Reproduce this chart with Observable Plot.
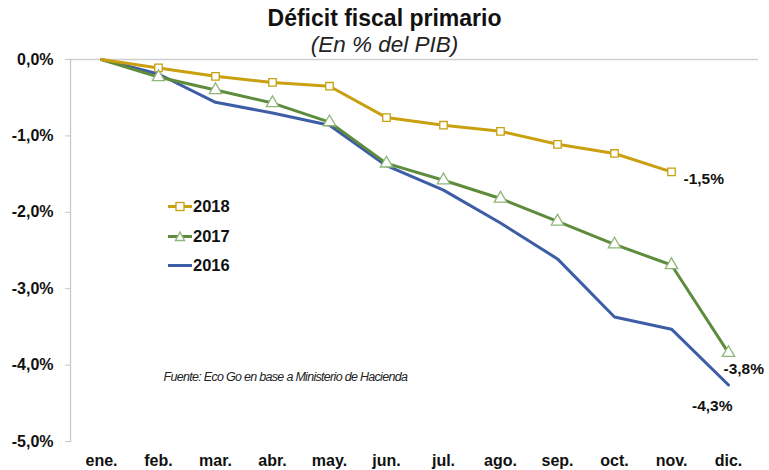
<!DOCTYPE html>
<html>
<head>
<meta charset="utf-8">
<script src="https://cdn.jsdelivr.net/npm/d3@7"></script>
<script src="https://cdn.jsdelivr.net/npm/@observablehq/plot@0.6"></script>
<style>
  html, body { margin: 0; padding: 0; background: #fff; }
  #wrap { position: relative; width: 769px; height: 470px; font-family: Arial, "Liberation Sans", sans-serif; }
  #title { height: 30px; line-height: 36px; text-align: center; font-weight: bold; font-size: 23px; color: #111; }
  #subtitle { height: 22px; line-height: 30px; text-align: center; font-style: italic; font-size: 22.5px; color: #222; }
  #legend { position: absolute; left: 168px; top: 192px; font-weight: bold; font-size: 16.5px; color: #111; }
  #legend .item { display: flex; align-items: center; height: 29.5px; }
  #legend svg { margin-right: 1px; }
</style>
</head>
<body>
<div id="wrap">
  <div id="title">Déficit fiscal primario</div>
  <div id="subtitle">(En % del PIB)</div>
  <div id="chart"></div>
  <div id="legend"></div>
</div>
<script>
const months = ["ene.", "feb.", "mar.", "abr.", "may.", "jun.", "jul.", "ago.", "sep.", "oct.", "nov.", "dic."];
const series = ["2018", "2017", "2016"];
const values2018 = [0, -0.11, -0.22, -0.30, -0.35, -0.76, -0.86, -0.94, -1.11, -1.23, -1.47, null];
const values2017 = [0, -0.23, -0.40, -0.57, -0.82, -1.36, -1.58, -1.82, -2.12, -2.42, -2.69, -3.84];
const values2016 = [0, -0.19, -0.56, -0.70, -0.86, -1.39, -1.71, -2.14, -2.61, -3.37, -3.53, -4.26];
const yTicks = [0, -1, -2, -3, -4, -5];
const endLabels = ["-1,5%", "-3,8%", "-4,3%"];
const colors = {"2018": "#C9A010", "2017": "#5E8C3C", "2016": "#3D5DA6"};
const markerStroke = {"2018": "#C9A010", "2017": "#8FB57A"};
const source = "Fuente: Eco Go en base a Ministerio de Hacienda";

const valuesBySeries = {"2018": values2018, "2017": values2017, "2016": values2016};
const rows = [];
for (const s of series) {
  valuesBySeries[s].forEach((v, i) => { if (v !== null) rows.push({serie: s, mes: months[i], valor: v}); });
}
const byS = s => rows.filter(d => d.serie === s);
const lastOf = s => byS(s)[byS(s).length - 1];
const labelRows = [
  {...lastOf("2018"), label: endLabels[0], dx: 12, dy: 7, anchor: "start"},
  {...lastOf("2017"), label: endLabels[1], dx: -5, dy: 16, anchor: "start"},
  {...lastOf("2016"), label: endLabels[2], dx: 4, dy: 21, anchor: "end"}
];
const fmt = v => d3.format(".1f")(v).replace(".", ",").replace("−", "-") + "%";

const chart = Plot.plot({
  width: 769,
  height: 418,
  marginTop: 7,
  marginBottom: 29,
  marginLeft: 70,
  marginRight: 11,
  style: {fontFamily: "Arial, 'Liberation Sans', sans-serif", background: "#fff"},
  x: {type: "point", domain: months, padding: 0.5, label: null},
  y: {domain: [-5, 0], label: null},
  marks: [
    Plot.ruleY([0], {stroke: "#cfcfcf", strokeWidth: 1.3}),
    Plot.frame({anchor: "left", stroke: "#c8c8c8", strokeWidth: 1.3}),
    Plot.axisY({ticks: yTicks, tickFormat: fmt, tickSize: 5, tickPadding: 12, stroke: "#c8c8c8", fontSize: 16, fontWeight: "bold", fill: "#111", label: null}),
    Plot.axisX({tickSize: 0, tickPadding: 13, fontSize: 16, fontWeight: "bold", fill: "#111", label: null}),
    ...series.slice().reverse().map(s => Plot.line(byS(s), {x: "mes", y: "valor", stroke: colors[s], strokeWidth: 3})),
    Plot.dot(byS("2018").slice(1), {x: "mes", y: "valor", symbol: "square", r: 4.2, fill: "#fff", stroke: markerStroke["2018"], strokeWidth: 1.3}),
    Plot.dot(byS("2017").slice(1), {x: "mes", y: "valor", symbol: "triangle", r: 4.6, fill: "#fff", stroke: markerStroke["2017"], strokeWidth: 1.3}),
    ...labelRows.map(d => Plot.text([d], {x: "mes", y: "valor", text: "label", dx: d.dx, dy: d.dy, textAnchor: d.anchor, fontSize: 15.5, fontWeight: "bold", fill: "#111"})),
    Plot.text([source], {frameAnchor: "top-left", dx: 93, dy: 313, text: d => d, fontSize: 12.5, fontStyle: "italic", fill: "#222", textAnchor: "start"})
  ]
});
document.getElementById("chart").appendChild(chart);
d3.select(chart).selectAll("text").filter(function() { return this.textContent === source; }).attr("letter-spacing", "-0.7");

// legend
const legend = document.getElementById("legend");
for (const s of series) {
  const item = document.createElement("div");
  item.className = "item";
  let marker = "";
  if (s === "2018") marker = `<rect x="8" y="3.5" width="8" height="8" fill="#fff" stroke="${markerStroke[s]}" stroke-width="1.3"/>`;
  if (s === "2017") marker = `<path d="M12,3 L16.5,11.5 L7.5,11.5 Z" fill="#fff" stroke="${markerStroke[s]}" stroke-width="1.3"/>`;
  item.innerHTML = `<svg width="24" height="15"><line x1="0" x2="24" y1="7.5" y2="7.5" stroke="${colors[s]}" stroke-width="3"/>${marker}</svg><span>${s}</span>`;
  legend.appendChild(item);
}
</script>
</body>
</html>
